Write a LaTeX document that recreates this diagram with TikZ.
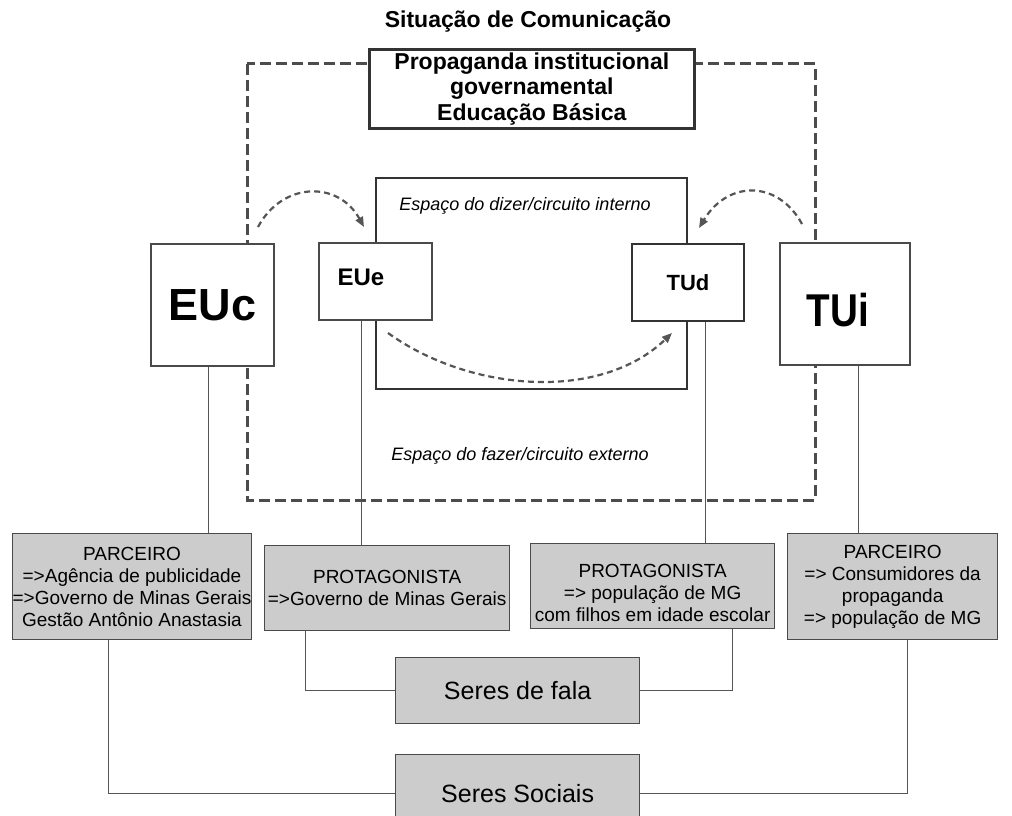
\documentclass[tikz,border=0pt]{standalone}
\usepackage{fontspec}
\setmainfont{Liberation Sans}
\usetikzlibrary{arrows.meta}
\definecolor{lineg}{HTML}{555555}
\definecolor{dashg}{HTML}{4C4C4C}
\definecolor{boxg}{HTML}{CCCCCC}
\definecolor{edgeg}{HTML}{4A4A4A}
\definecolor{darkg}{HTML}{333333}
\begin{document}
\begin{tikzpicture}[x=1pt,y=-1pt,
  wbox/.style={draw=edgeg,line width=2pt,fill=white,rectangle,inner sep=0pt,anchor=north west},
  gbox/.style={draw=edgeg,line width=1.3pt,fill=boxg,rectangle,inner sep=0pt,anchor=north west,align=center,font=\fontsize{19}{22}\selectfont},
  conn/.style={draw=lineg,line width=1pt},
  dashline/.style={draw=dashg,line width=3pt,dash pattern=on 11pt off 5pt},
  darrow/.style={draw=lineg,line width=2.2pt,dash pattern=on 6pt off 4pt,-{Triangle[length=10pt,width=8pt]}}
]
\useasboundingbox (0,0) rectangle (1012,816);
\fill[white] (0,0) rectangle (1012,816);

% outer dashed frame
\coordinate (o1) at (247,64);
\coordinate (o2) at (815,500);
\draw[dashline] (o1) rectangle (o2);

% inner frame
\coordinate (i1) at (376,178);
\coordinate (i2) at (687,389);
\draw[darkg,line width=2pt] (i1) rectangle (i2);

\node[font=\bfseries\fontsize{23}{26}\selectfont] (title) at (528,22) {Situação de Comunicação};
\node[wbox,draw=darkg,line width=2.6pt,minimum width=325pt,minimum height=79pt,align=center,font=\bfseries\fontsize{23}{25.5}\selectfont] (top) at (368,48) {Propaganda institucional\\governamental\\Educação Básica};

\node[font=\itshape\fontsize{18}{21}\selectfont] (dizer) at (525,206) {Espaço do dizer/circuito interno};
\node[font=\itshape\fontsize{18}{21}\selectfont] (fazer) at (520,456) {Espaço do fazer/circuito externo};

% upper boxes
\node[wbox,minimum width=123pt,minimum height=122pt,font=\bfseries\fontsize{45}{48}\selectfont] (euc) at (150,243) {EUc};
\node[wbox,minimum width=113pt,minimum height=77pt] (eue) at (318,242) {};
\node[font=\bfseries\fontsize{24}{28}\selectfont] (euet) at (361,277) {EUe};
\node[wbox,draw=darkg,minimum width=112pt,minimum height=77pt,font=\bfseries\fontsize{22}{26}\selectfont] (tud) at (631,243) {TUd};
\node[wbox,minimum width=130pt,minimum height=122pt] (tui) at (779,242) {};
\node[font=\bfseries\fontsize{46}{48}\selectfont] (tuit) at (838,310) {\scalebox{0.84}[1]{TUi}};

% lower boxes
\node[gbox,minimum width=237pt,minimum height=106pt] (parc1) at (12,533) {PARCEIRO\\=>Agência de publicidade\\=>Governo de Minas Gerais\\Gestão Antônio Anastasia};
\node[gbox,minimum width=245pt,minimum height=85pt] (prot1) at (264,545) {PROTAGONISTA\\=>Governo de Minas Gerais};
\node[gbox,minimum width=244pt,minimum height=85pt] (prot2) at (530,543) {\rule{0pt}{26pt}PROTAGONISTA\\=> população de MG\\com filhos em idade escolar};
\node[gbox,minimum width=210pt,minimum height=106pt] (parc2) at (787,533) {PARCEIRO\\=> Consumidores da\\propaganda\\=> população de MG};
\node[gbox,minimum width=244pt,minimum height=66pt,font=\fontsize{25}{28}\selectfont] (fala) at (395,657) {Seres de fala};
\node[gbox,minimum width=244pt,minimum height=78pt,font=\fontsize{25}{28}\selectfont] (soc) at (395,754) {Seres Sociais};

% vertical connectors
\draw[conn] ([xshift=-4.5pt]euc.south) -- ([xshift=-4.5pt]euc.south |- parc1.north);
\draw[conn] ([xshift=-14.5pt]eue.south) -- ([xshift=-14.5pt]eue.south |- prot1.north);
\draw[conn] ([xshift=17pt]tud.south) -- ([xshift=17pt]tud.south |- prot2.north);
\draw[conn] ([xshift=13pt]tui.south) -- ([xshift=13pt]tui.south |- parc2.north);

% to Seres de fala / Sociais
\draw[conn] ([xshift=-81.5pt]prot1.south) |- (fala.west);
\draw[conn] ([xshift=80pt]prot2.south) |- (fala.east);
\draw[conn] ([xshift=-23.5pt]parc1.south) |- (soc.west);
\draw[conn] ([xshift=15pt]parc2.south) |- (soc.east);

% curved dashed arrows
\coordinate (a1s) at (258,227);
\coordinate (a1e) at (364,227);
\draw[darrow] (a1s) .. controls (282,182) and (338,180) .. (a1e);
\coordinate (a2s) at (802,224);
\coordinate (a2e) at (699,228);
\draw[darrow] (a2s) .. controls (778,180) and (728,180) .. (a2e);
\coordinate (a3s) at (388,333);
\coordinate (a3e) at (672,333);
\draw[darrow] (a3s) .. controls (470,392) and (600,402) .. (a3e);
\end{tikzpicture}
\end{document}
